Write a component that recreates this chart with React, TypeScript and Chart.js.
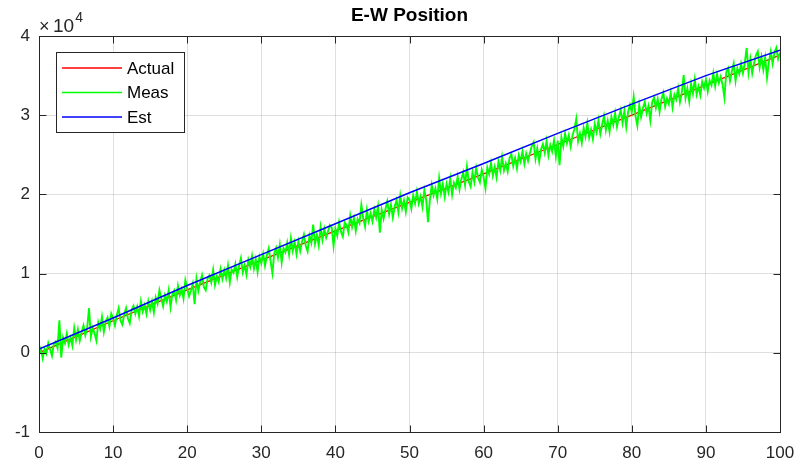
import React, { useEffect, useRef } from "react";
import { Chart, registerables } from "chart.js";

Chart.register(...registerables);

const TITLE = "E-W Position";
const SERIES_NAMES = ["Actual", "Meas", "Est"];
const SERIES_COLORS = ["#ff0000", "#00ff00", "#0000ff"];
const EXPONENT_TIMES = "\u00d7";
const EXPONENT_BASE = "10";
const EXPONENT = "4";
const Y_SCALE = 10000;

// anchor times for the smooth series
const ANCHOR_X = [0, 10, 20, 30, 40, 50, 60, 70, 80, 90, 100];
const ACTUAL = [0, 4050, 7950, 11700, 15400, 19000, 22600, 26300, 30000, 33800, 37600];
const EST = [470, 4400, 8500, 12400, 16300, 20200, 23900, 27700, 31400, 35000, 38200];

// measurements, one every 0.25 time units from 0 to 100
const MEAS_STEP = 0.25;
const MEAS = [
  -300, 500, -700, 500, -100, 1210, 410, -390, 1110, 1410, 610, 4110, -600, 1920, 1220, 2420, 1020, 1920, 920, 3120,
  1630, 2930, 1530, 2630, 3430, 2230, 3130, 5630, 2040, 3140, 2440, 1540, 3840, 3040, 4540, 2640, 3950, 4450, 3350, 4950,
  4350, 3450, 4750, 5640, 4040, 3540, 4840, 5630, 4330, 3730, 5430, 5920, 4920, 5820, 4620, 6510, 5210, 6010, 4910, 6500,
  5400, 6500, 5100, 6990, 6190, 7890, 6890, 5880, 7280, 6480, 7880, 5770, 7370, 7870, 6670, 8460, 7260, 8060, 6860, 9150,
  8150, 7140, 7840, 8730, 6130, 9320, 7810, 8910, 9800, 8290, 7890, 9380, 9780, 8870, 10460, 8560, 9650, 8940, 10540, 9330,
  10430, 9420, 11010, 8910, 10500, 10090, 11190, 9580, 10980, 11970, 10160, 11060, 9850, 11740, 10840, 12230, 10630, 11820, 10210, 12110,
  11300, 12490, 10990, 12280, 13170, 11560, 10060, 12550, 13240, 12030, 13630, 11420, 13210, 12700, 13900, 12390, 14480, 12870, 13970, 12460,
  14050, 12840, 14040, 14930, 13520, 12810, 14810, 13900, 16190, 13780, 14880, 13570, 15860, 14250, 15650, 14540, 15330, 16120, 15820, 13510,
  15700, 14790, 16480, 15270, 14660, 16450, 16140, 15230, 17320, 15910, 17000, 15390, 16880, 16370, 18660, 17050, 15940, 18030, 16620, 17610,
  16600, 18090, 17080, 18470, 15160, 18050, 16940, 18130, 19120, 17510, 18700, 17090, 18480, 19270, 17760, 19850, 18240, 19230, 17820, 19610,
  19300, 18190, 19880, 18870, 20360, 18850, 19740, 18430, 20520, 19310, 16500, 19290, 21180, 19870, 20760, 19450, 22040, 20130, 21320, 19710,
  21300, 20290, 21980, 19970, 21460, 20850, 22240, 20630, 21920, 22810, 21200, 23490, 21580, 20970, 22760, 21550, 23340, 22130, 21520, 23110,
  22200, 20790, 23390, 22580, 23970, 22360, 23460, 22150, 24140, 23030, 24730, 23020, 23910, 22900, 24600, 25090, 23580, 24570, 23270, 24960,
  24150, 25440, 23840, 25130, 24220, 25210, 26110, 26600, 24490, 25780, 24180, 25670, 26360, 25250, 26750, 24940, 26230, 25420, 26820, 24810,
  26800, 23690, 27190, 26080, 27670, 26460, 27460, 26050, 27440, 28230, 29530, 26720, 27710, 26500, 28400, 27290, 28980, 27170, 28170, 26960,
  28850, 27840, 29340, 27630, 28820, 29910, 28110, 29300, 27890, 29780, 28780, 30270, 28560, 29750, 30650, 29040, 30530, 28520, 30420, 31310,
  30400, 32300, 29890, 28690, 31280, 29780, 30870, 31670, 30260, 31160, 29350, 31650, 32240, 30940, 32030, 30430, 32020, 32820, 31110, 32110,
  31400, 32800, 30990, 32590, 31980, 33380, 31670, 32870, 35060, 32160, 33350, 31750, 33940, 32740, 34530, 32630, 33620, 32520, 34210, 33410,
  34500, 33000, 34390, 33790, 35280, 33680, 35170, 34070, 34860, 33860, 32250, 35450, 35940, 34340, 35530, 36530, 34320, 35920, 35210, 36510,
  35300, 36600, 38490, 35390, 37080, 35280, 36570, 37570, 38060, 36060, 37350, 35750, 37240, 34740, 36730, 38030, 36520, 37920, 38510, 37110,
  37900,
];

const X_MIN = 0;
const X_MAX = 100;
const X_STEP = 10;
const Y_MIN = -10000;
const Y_MAX = 40000;
const Y_STEP = 10000;

const FONT = "'Liberation Sans', Arial, Helvetica, sans-serif";
const AXIS_COLOR = "#262626";

const decorPlugin = {
  id: "matlabDecor",
  afterDraw(chart: any) {
    const { ctx, chartArea: a, scales } = chart;
    const L = Math.round(a.left) + 0.5;
    const R = Math.round(a.right) + 0.5;
    const T = Math.round(a.top) + 0.5;
    const B = Math.round(a.bottom) + 0.5;
    ctx.save();
    ctx.strokeStyle = AXIS_COLOR;
    ctx.lineWidth = 1;
    ctx.strokeRect(L, T, R - L, B - T);
    const tl = 7;
    ctx.beginPath();
    scales.x.ticks.forEach((t: any) => {
      const px = Math.round(scales.x.getPixelForValue(t.value)) + 0.5;
      ctx.moveTo(px, B);
      ctx.lineTo(px, B - tl);
      ctx.moveTo(px, T);
      ctx.lineTo(px, T + tl);
    });
    scales.y.ticks.forEach((t: any) => {
      const py = Math.round(scales.y.getPixelForValue(t.value)) + 0.5;
      ctx.moveTo(L, py);
      ctx.lineTo(L + tl, py);
      ctx.moveTo(R, py);
      ctx.lineTo(R - tl, py);
    });
    ctx.stroke();

    // title
    ctx.fillStyle = "#000000";
    ctx.font = `bold 19px ${FONT}`;
    ctx.textAlign = "center";
    ctx.textBaseline = "middle";
    ctx.fillText(TITLE, (a.left + a.right) / 2, 16);

    // exponent label
    ctx.fillStyle = AXIS_COLOR;
    ctx.textAlign = "left";
    ctx.textBaseline = "alphabetic";
    ctx.font = `18px ${FONT}`;
    ctx.fillText(EXPONENT_TIMES, a.left, 32);
    ctx.font = `19px ${FONT}`;
    ctx.fillText(EXPONENT_BASE, a.left + 14, 32);
    const w = ctx.measureText(EXPONENT_BASE).width;
    ctx.font = `14px ${FONT}`;
    ctx.fillText(EXPONENT, a.left + 15 + w, 22);

    // legend
    const bx = 56.5, by = 52.5, bw = 128, bh = 80;
    ctx.fillStyle = "#ffffff";
    ctx.fillRect(bx, by, bw, bh);
    ctx.strokeStyle = AXIS_COLOR;
    ctx.lineWidth = 1;
    ctx.strokeRect(bx, by, bw, bh);
    ctx.font = `17px ${FONT}`;
    ctx.textBaseline = "middle";
    SERIES_NAMES.forEach((name, i) => {
      const y = 68 + i * 24.5;
      ctx.strokeStyle = SERIES_COLORS[i];
      ctx.lineWidth = 1.3;
      ctx.beginPath();
      ctx.moveTo(62, y);
      ctx.lineTo(122, y);
      ctx.stroke();
      ctx.fillStyle = "#000000";
      ctx.fillText(name, 127, y + 1);
    });
    ctx.restore();
  },
};

export default function App() {
  const ref = useRef<HTMLCanvasElement | null>(null);
  useEffect(() => {
    document.body.style.margin = "0";
    const canvas = ref.current;
    if (!canvas) return;
    const actualPts = ANCHOR_X.map((x, i) => ({ x, y: ACTUAL[i] }));
    const estPts = ANCHOR_X.map((x, i) => ({ x, y: EST[i] }));
    const measPts = MEAS.map((y, i) => ({ x: i * MEAS_STEP, y }));
    const chart = new Chart(canvas, {
      type: "line",
      data: {
        datasets: [
          { label: SERIES_NAMES[0], data: actualPts, borderColor: SERIES_COLORS[0], borderWidth: 1.3, order: 3 },
          { label: SERIES_NAMES[1], data: measPts, borderColor: SERIES_COLORS[1], borderWidth: 1.9, order: 2 },
          { label: SERIES_NAMES[2], data: estPts, borderColor: SERIES_COLORS[2], borderWidth: 1.5, order: 1 },
        ],
      },
      options: {
        responsive: false,
        animation: false,
        events: [],
        elements: { point: { radius: 0 }, line: { tension: 0 } },
        layout: { padding: { top: 36, right: 27, left: 0, bottom: 0 } },
        plugins: { legend: { display: false }, title: { display: false }, tooltip: { enabled: false } },
        scales: {
          x: {
            type: "linear",
            min: X_MIN,
            max: X_MAX,
            afterFit: (s: any) => { s.height = 31; },
            grid: { color: "rgba(38,38,38,0.15)", drawTicks: false },
            border: { display: false },
            ticks: { stepSize: X_STEP, color: AXIS_COLOR, font: { family: FONT, size: 17 }, padding: 11, maxRotation: 0 },
          },
          y: {
            type: "linear",
            min: Y_MIN,
            max: Y_MAX,
            afterFit: (s: any) => { s.width = 39; },
            grid: { color: "rgba(38,38,38,0.15)", drawTicks: false },
            border: { display: false },
            ticks: {
              stepSize: Y_STEP,
              color: AXIS_COLOR,
              font: { family: FONT, size: 17 },
              padding: 9,
              callback: (v: any) => String(Number(v) / Y_SCALE),
            },
          },
        },
      },
      plugins: [decorPlugin],
    });
    return () => chart.destroy();
  }, []);
  return (
    <div style={{ width: 807, height: 463 }}>
      <canvas ref={ref} width={807} height={463} />
    </div>
  );
}
